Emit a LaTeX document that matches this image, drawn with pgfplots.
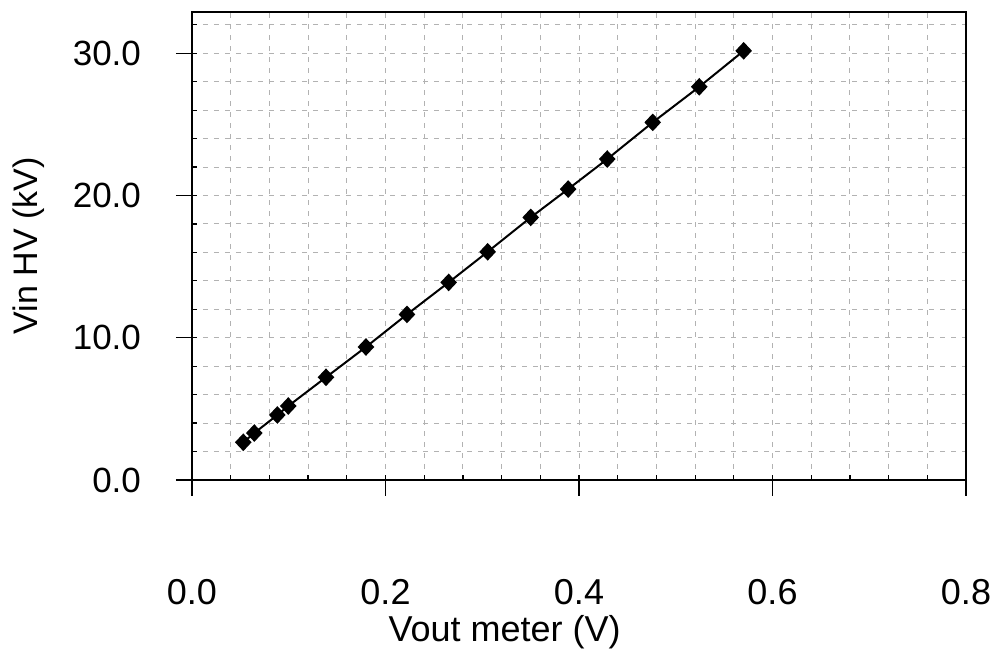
\documentclass[border=0pt]{standalone}
\usepackage{fontspec}
\setmainfont{Liberation Sans}
\usepackage{pgfplots}
\pgfplotsset{compat=1.18}

\begin{document}
\begin{tikzpicture}
\useasboundingbox (0,0) rectangle (498.5pt,325.5pt);
\begin{axis}[
    at={(96pt,85.5pt)}, anchor=south west,
    scale only axis, width=387pt, height=234pt,
    xmin=0, xmax=0.8, ymin=0, ymax=32.9,
    axis line style={line width=1pt},
    tick pos=left,
    tick style={black, line width=0.6pt},
    xtick={0,0.04,...,0.81}, xticklabels={},
    ytick={0,2,...,32}, yticklabels={},
    tick align=inside, major tick length=2.5pt,
    grid=major,
    major grid style={gray!60, line width=0.5pt, dash pattern=on 2.5pt off 3pt},
    extra x ticks={0,0.2,0.4,0.6,0.8},
    extra y ticks={0,10,20,30},
    extra tick style={grid=none, tick align=outside, major tick length=8pt},
    /pgf/number format/assume math mode=true,
    /pgf/number format/.cd, fixed, fixed zerofill, precision=1, /pgfplots/.cd,
    xticklabel style={font=\fontsize{18}{20}\selectfont, anchor=center, yshift=-48pt},
    yticklabel style={font=\fontsize{17.5}{20}\selectfont, anchor=east, xshift=-14pt},
    xlabel={Vout meter (V)},
    ylabel={Vin HV (kV)},
    xlabel style={font=\fontsize{18}{20}\selectfont, at={(axis description cs:0.404,0)}, anchor=base, yshift=-81pt},
    ylabel style={font=\fontsize{17}{20}\selectfont, at={(axis description cs:0,0.5)}, anchor=center, yshift=81.5pt},
]
\addplot[black, line width=1pt, mark=diamond*, mark size=3.7pt,
    mark options={solid, fill=black, xscale=1.25}]
    coordinates {
    (0.053,2.65) (0.0644,3.30) (0.0882,4.57) (0.0995,5.20)
    (0.1385,7.22) (0.1798,9.35) (0.2222,11.64) (0.2653,13.89)
    (0.3056,16.04) (0.3501,18.46) (0.3888,20.45) (0.4292,22.56)
    (0.4762,25.14) (0.5243,27.64) (0.5702,30.17)
    };
\end{axis}
\end{tikzpicture}
\end{document}
